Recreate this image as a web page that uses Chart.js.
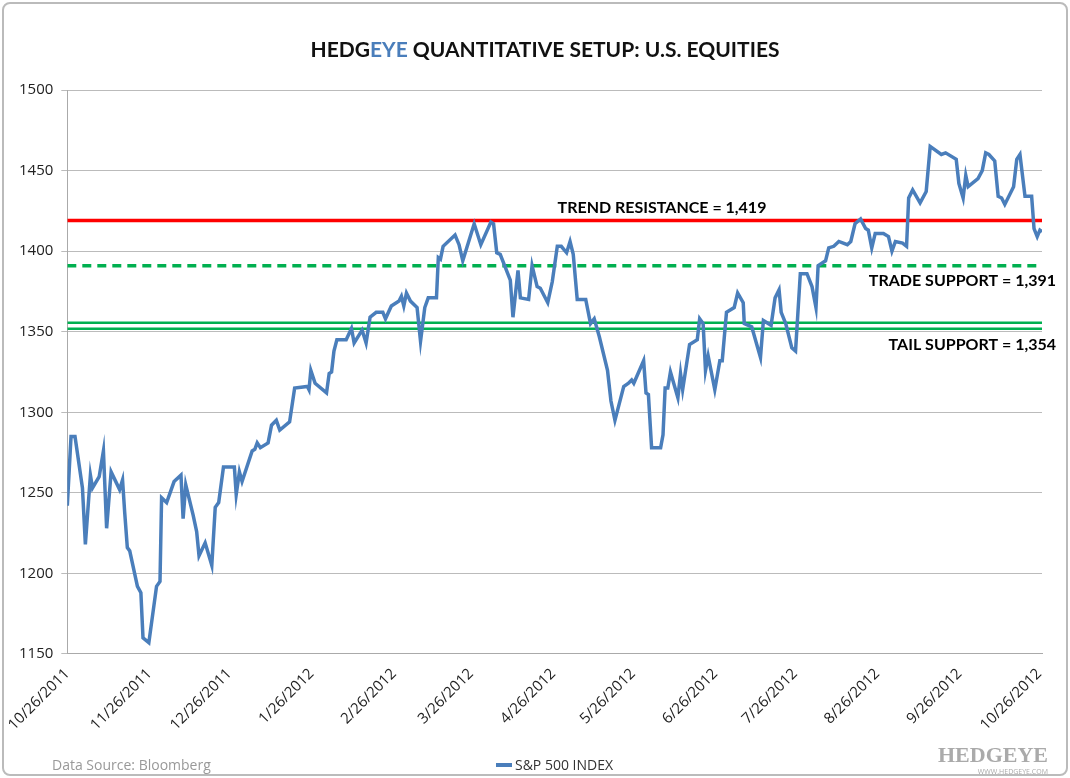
<!DOCTYPE html>
<html>
<head>
<meta charset="utf-8">
<script src="https://cdn.jsdelivr.net/npm/chart.js@4"></script>
<style>
  html, body { margin: 0; padding: 0; background: #fff; }
  #wrap { width: 1066px; height: 774px; border: 2px solid #bbb; border-radius: 8px; box-sizing: border-box; position: relative; margin: 2px; }
  canvas { position: absolute; left: 0; top: 0; }
</style>
</head>
<body>
<div id="wrap"><canvas id="chart" width="1062" height="770"></canvas></div>
<script>
// days since 10/26/2011
const tickDays = [0, 31, 61, 92, 123, 152, 183, 213, 244, 274, 305, 336, 366];
const tickLabels = ["10/26/2011", "11/26/2011", "12/26/2011", "1/26/2012", "2/26/2012", "3/26/2012",
  "4/26/2012", "5/26/2012", "6/26/2012", "7/26/2012", "8/26/2012", "9/26/2012", "10/26/2012"];

const days = [0, 1.4, 2.9, 5.7, 6.8, 8.7, 9.5, 12, 13.6, 14.8, 16.5, 19.7, 20.8, 21.6, 22.6, 23.5, 26.4, 27.7, 28.5, 30.7,
  33.6, 34.9, 35.5, 37.4, 40.2, 42.8, 43.6, 44.6, 47.4, 48.7, 49.6, 51.9, 54.4, 55.7, 57, 58.8, 62.9, 63.6, 64.8, 65.8,
  69.6, 70.6, 71.5, 72.7, 75.6, 76.9, 78.7, 80, 83.7, 85.6, 90.4, 91, 91.7, 93.3, 97.6, 98.6, 99.5, 100.4, 101.5, 105,
  107, 108, 111, 112.5, 114, 116.3, 118.8, 119.8, 122, 124.9, 125.8, 126.7, 127.7, 129.2, 131.7, 133, 134.6, 135.9, 139, 139.7,
  140.5, 141.5, 146, 147.5, 148.9, 153.2, 155.7, 159.5, 160.5, 161.7, 163, 166.8, 167.8, 169.7, 170.6, 173.7, 175, 176.9, 178.1, 180.9,
  182.6, 184.5, 186, 188, 189.3, 190.5, 192, 195.2, 197, 198.4, 200.3, 203.4, 204.7, 206.2, 209.5, 211.3, 212.5, 213.3, 217, 217.9,
  218.8, 220, 223.4, 224.3, 225.1, 226.1, 227.1, 229.9, 230.9, 231.7, 234.3, 237.2, 238.1, 239.4, 240.3, 241.3, 243.8, 245.7, 246.6, 248.2,
  251.1, 252.4, 254.5, 254.9, 257.7, 259.6, 261, 262.1, 265, 266.5, 268, 268.8, 270.5, 272.8, 274.2, 276, 278.5, 280.4, 281.9, 282.7,
  285.5, 286.7, 288.6, 290.5, 293.7, 295, 296.6, 298.7, 300.6, 301.6, 302.9, 304.2, 307.3, 309.2, 310.5, 311.8, 314.5, 316, 316.8, 318.3,
  321.1, 323.4, 324.9, 329.1, 330.7, 334.7, 335.7, 337.3, 338.3, 339.2, 342.9, 344.5, 345.8, 347, 349.2, 350.5, 351.8, 353, 356.3, 357.5,
  358.7, 360.6, 363.1, 364, 365.2, 366.2, 367];
const spx = [1242, 1285, 1285, 1253, 1218, 1261, 1253, 1260, 1276, 1228, 1263, 1252, 1258, 1238, 1216, 1214, 1192, 1188, 1160, 1157,
  1192, 1195, 1247, 1244, 1257, 1261, 1234, 1255, 1236, 1226, 1211, 1219, 1205, 1241, 1244, 1266, 1266, 1249, 1263, 1257,
  1276, 1277, 1281, 1278, 1281, 1292, 1295, 1289, 1294, 1315, 1316, 1314, 1326, 1318, 1312, 1324, 1325, 1338, 1345, 1345,
  1352, 1343, 1351, 1343, 1359, 1362, 1362, 1358, 1366, 1369, 1372, 1366, 1374, 1369, 1365, 1344, 1365, 1371, 1371, 1396,
  1395, 1403, 1410, 1404, 1394, 1417, 1404, 1418, 1417, 1399, 1398, 1382, 1359, 1388, 1371, 1370, 1391, 1378, 1377, 1368,
  1381, 1403, 1403, 1399, 1406, 1398, 1370, 1370, 1355, 1358, 1347, 1326, 1307, 1295, 1316, 1318, 1320, 1318, 1332, 1312,
  1311, 1278, 1278, 1286, 1315, 1315, 1325, 1309, 1324, 1314, 1342, 1345, 1358, 1355, 1326, 1335, 1314, 1332, 1332, 1362,
  1365, 1374, 1368, 1355, 1353, 1342, 1334, 1357, 1354, 1371, 1376, 1362, 1355, 1340, 1338, 1386, 1386, 1378, 1365, 1391,
  1394, 1402, 1403, 1406, 1404, 1406, 1417, 1420, 1414, 1413, 1402, 1411, 1411, 1409, 1400, 1406, 1405, 1403, 1433, 1438,
  1430, 1437, 1465, 1460, 1461, 1457, 1442, 1433, 1447, 1440, 1445, 1450, 1461, 1460, 1456, 1434, 1433, 1429, 1440, 1457,
  1460, 1434, 1434, 1414, 1409, 1413, 1412];

const trendResistance = 1419;
const tradeSupport = 1391;
const tailSupportHigh = 1355.5;
const tailSupportLow = 1351.8;

const lineStart = 0, lineEnd = 367;
function flat(v) { return [{ x: lineStart, y: v }, { x: lineEnd, y: v }]; }

const labelsPlugin = {
  id: 'labels',
  afterDraw(chart) {
    const ctx = chart.ctx;
    const ys = chart.scales.y;
    ctx.save();
    // title
    ctx.font = 'bold 21px Lato';
    ctx.textBaseline = 'middle';
    const parts = [['HEDG', '#111'], ['EYE', '#4a7ebb'], [' QUANTITATIVE SETUP: U.S. EQUITIES', '#111']];
    let total = parts.reduce((s, p) => s + ctx.measureText(p[0]).width, 0);
    let x = 541 - total / 2;
    parts.forEach(p => { ctx.fillStyle = p[1]; ctx.fillText(p[0], x, 46); x += ctx.measureText(p[0]).width; });
    // level labels
    ctx.fillStyle = '#000';
    ctx.font = 'bold 16px Lato';
    ctx.textAlign = 'center';
    ctx.fillText('TREND RESISTANCE = 1,419', 658, ys.getPixelForValue(trendResistance) - 13);
    ctx.textAlign = 'right';
    ctx.fillText('TRADE SUPPORT = 1,391', 1052, ys.getPixelForValue(tradeSupport) + 15);
    ctx.fillText('TAIL SUPPORT = 1,354', 1052, ys.getPixelForValue(tailSupportLow) + 16);
    // footer
    ctx.textAlign = 'left';
    ctx.font = '14px "Open Sans"';
    ctx.fillStyle = '#999';
    ctx.fillText('Data Source: Bloomberg', 48, 762);
    ctx.textAlign = 'center';
    ctx.fillStyle = '#333';
    ctx.fillText('S&P 500 INDEX', 560, 762);
    ctx.strokeStyle = '#4a7ebb';
    ctx.lineWidth = 4;
    ctx.beginPath(); ctx.moveTo(492, 761); ctx.lineTo(508, 761); ctx.stroke();
    ctx.textAlign = 'right';
    ctx.font = 'bold 22px "Liberation Sans Narrow"';
    ctx.fillStyle = '#aaa';
    ctx.fillText('HEDGEYE', 1044, 752);
    ctx.font = '7px "Open Sans"';
    ctx.fillText('WWW.HEDGEYE.COM', 1044, 768);
    ctx.restore();
  }
};

new Chart(document.getElementById('chart'), {
  type: 'line',
  data: {
    datasets: [
      { label: 'S&P 500 INDEX', data: days.map((d, i) => ({ x: d, y: spx[i] })), borderColor: '#4a7ebb', borderWidth: 3.5, pointRadius: 0, tension: 0, order: 1 },
      { label: 'trend', data: flat(trendResistance), borderColor: '#ff0000', borderWidth: 3.5, pointRadius: 0, order: 2 },
      { label: 'trade', data: flat(tradeSupport), borderColor: '#00b050', borderWidth: 3.5, borderDash: [9, 6], pointRadius: 0, order: 2 },
      { label: 'tailHi', data: flat(tailSupportHigh), borderColor: '#00b050', borderWidth: 2.5, pointRadius: 0, order: 2 },
      { label: 'tailLo', data: flat(tailSupportLow), borderColor: '#00b050', borderWidth: 2.5, pointRadius: 0, order: 2 }
    ]
  },
  options: {
    responsive: false,
    animation: false,
    layout: { padding: { top: 86, right: 24, bottom: 37, left: 7 } },
    plugins: { legend: { display: false }, tooltip: { enabled: false } },
    scales: {
      x: {
        type: 'linear', min: 0, max: 367,
        afterBuildTicks: axis => { axis.ticks = tickDays.map(v => ({ value: v })); },
        ticks: {
          autoSkip: false, maxRotation: 45, minRotation: 45,
          color: '#222', font: { size: 15, family: 'Open Sans' },
          callback: v => tickLabels[tickDays.indexOf(v)]
        },
        grid: { display: false, drawTicks: true },
        border: { color: '#aaa' }
      },
      y: {
        min: 1150, max: 1500,
        ticks: { stepSize: 50, color: '#222', font: { size: 15, family: 'Open Sans' }, padding: 8, callback: v => String(v) },
        grid: { color: '#bbb', tickLength: 6 },
        border: { color: '#aaa' }
      }
    }
  },
  plugins: [labelsPlugin]
});
</script>
</body>
</html>
